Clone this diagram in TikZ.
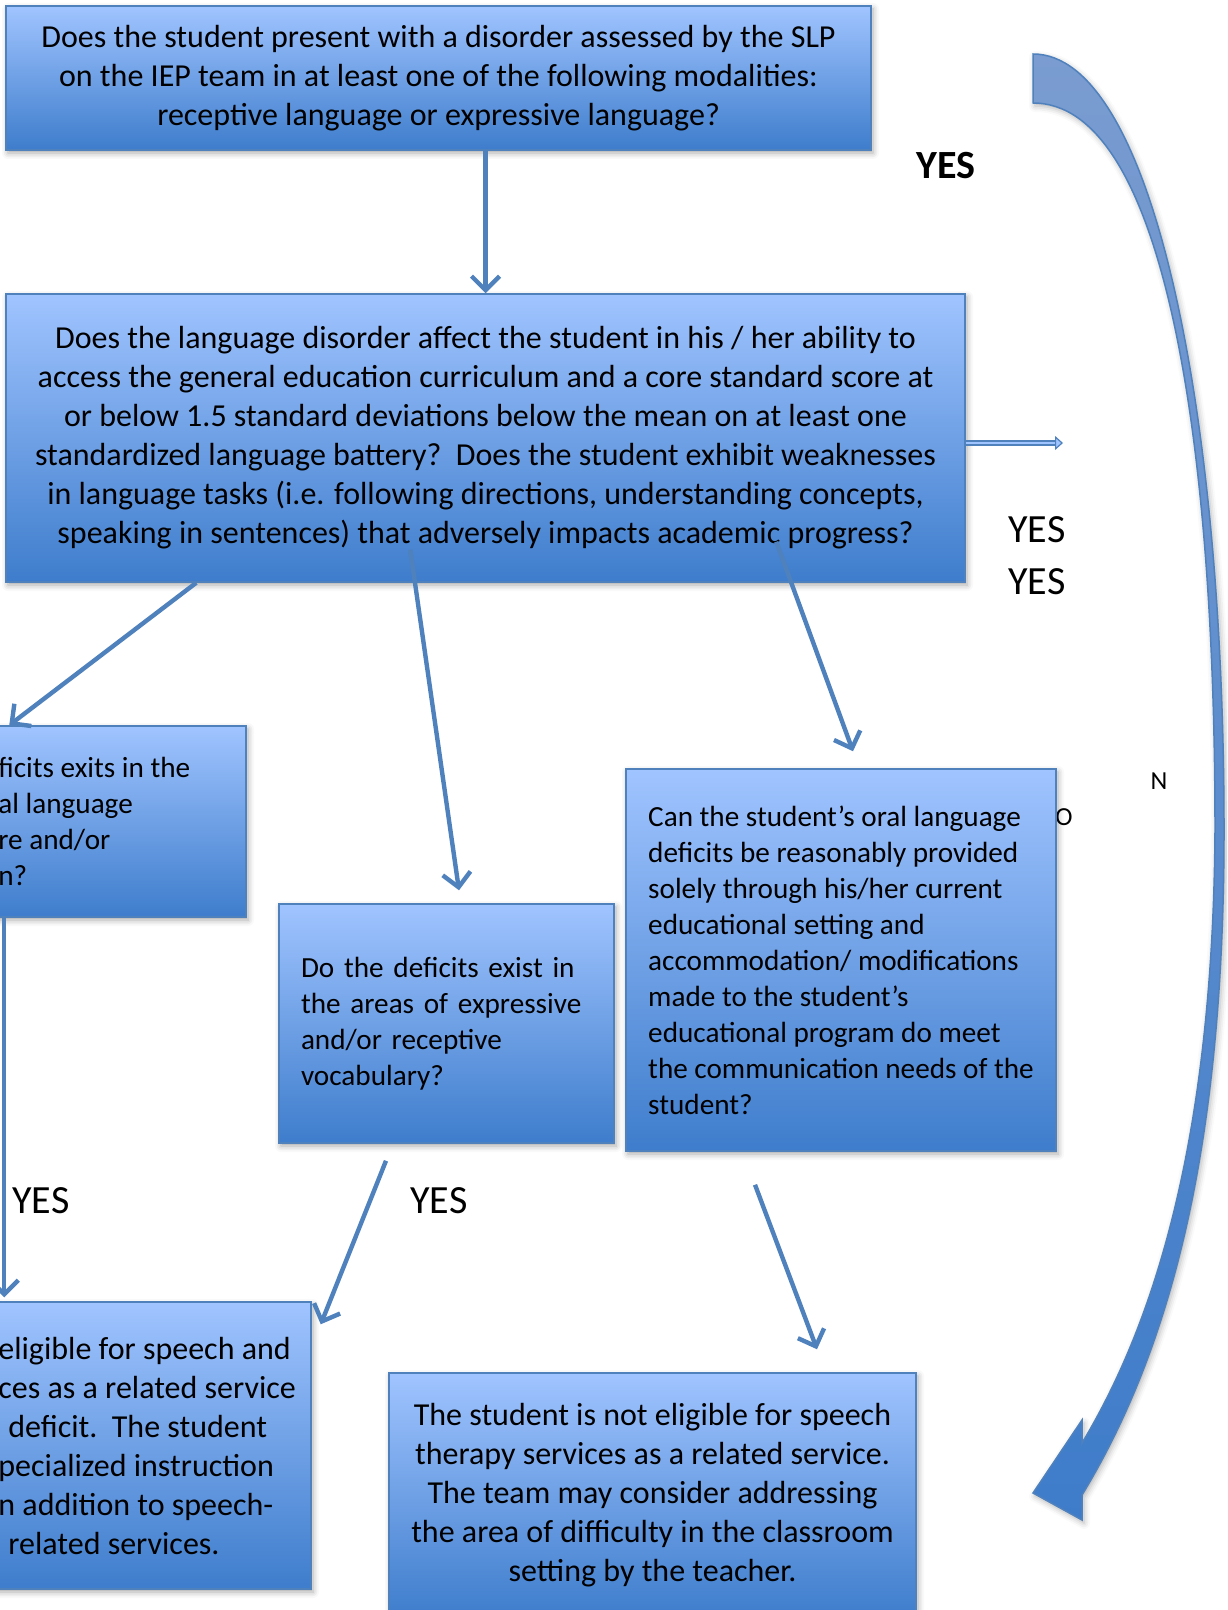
\documentclass[tikz,border=0pt]{standalone}
\usepackage{fontspec}
\setmainfont{Carlito}
\usetikzlibrary{arrows.meta,shadows.blur}

\definecolor{boxtop}{RGB}{160,196,255}
\definecolor{boxbot}{RGB}{62,125,204}
\definecolor{boxline}{RGB}{79,129,189}
\definecolor{linkblue}{RGB}{79,129,189}
\definecolor{bendtop}{RGB}{122,156,208}
\definecolor{bendbot}{RGB}{62,124,202}

\tikzset{
  qbox/.style={draw=boxline, line width=0.75pt, top color=boxtop, bottom color=boxbot,
    blur shadow={shadow xshift=1pt, shadow yshift=-1.5pt, shadow blur radius=3pt, shadow opacity=35},
    inner sep=0pt},
  bigtxt/.style={font=\fontsize{16}{19.5}\selectfont},
  smalltxt/.style={font=\fontsize{14.6}{18}\selectfont},
  yeslbl/.style={font=\fontsize{20}{24}\selectfont},
  yesbold/.style={font=\fontsize{20}{24}\selectfont\bfseries},
  letter/.style={font=\fontsize{13}{15}\selectfont},
  link/.style={draw=linkblue, line width=2.2pt, -{Straight Barb[length=7pt,width=14pt]}},
  dbl/.style={draw=linkblue, line width=0.6pt, double=boxtop, double distance=1.4pt,
    -{Triangle[length=4pt,width=7pt,fill=boxtop]}}
}

\begin{document}
\begin{tikzpicture}[x=0.5pt,y=-0.5pt]
  \useasboundingbox (0,0) rectangle (1227,1610);
  \clip (0,0) rectangle (1227,1610);

  % letters behind the right box
  \node[letter] (lo) at (1064,817) {O};
  \node[letter] (ln) at (1159,781) {N};

  % the big bent arrow on the right
  \path[draw=boxline, line width=0.75pt, top color=bendtop, bottom color=bendbot,
        blur shadow={shadow xshift=1pt, shadow yshift=-1.5pt, shadow blur radius=3pt, shadow opacity=30}]
    (1033,54) .. controls (1150,54) and (1224,400) .. (1224,830)
    .. controls (1224,1150) and (1170,1350) .. (1082,1495)
    -- (1082,1520) -- (1033,1493) -- (1082,1420) -- (1082,1443)
    .. controls (1150,1330) and (1213,1150) .. (1215,830)
    .. controls (1215,420) and (1160,103) .. (1033,103) -- cycle;

  % boxes
  \node[qbox, bigtxt, minimum width=432.5pt, minimum height=72pt, align=center] (q1) at (438.5,78)
    {Does the student present with a disorder assessed by the SLP\\
     on the IEP team in at least one of the following modalities:\\
     receptive language or expressive language?};
  \node[qbox, bigtxt, minimum width=479.5pt, minimum height=144pt, align=center] (q2) at (485.5,438)
    {Does the language disorder affect the student in his / her ability to\\
     access the general education curriculum and a core standard score at\\
     or below 1.5 standard deviations below the mean on at least one\\
     standardized language battery?\ \ Does the student exhibit weaknesses\\
     in language tasks (i.e. following directions, understanding concepts,\\
     speaking in sentences) that adversely impacts academic progress?};
  \node[qbox, minimum width=198pt, minimum height=95.5pt] (q3) at (48,821.5) {};
  \node[smalltxt, align=left, anchor=west, inner sep=0pt] (q3t) at (-2,821.5)
    {ficits exits in the\\al language\\re and/or\\n?};
  \node[qbox, smalltxt, minimum width=167.5pt, minimum height=119.5pt, text width=145.5pt, align=left] (q4) at (446.5,1023.5)
    {Do the deficits exist in\\the areas of expressive\\and/or receptive\\vocabulary?};
  \node[qbox, smalltxt, minimum width=215pt, minimum height=191pt, align=left] (q5) at (841,960)
    {Can the student’s oral language\\
     deficits be reasonably provided\\
     solely through his/her current\\
     educational setting and\\
     accommodation/ modifications\\
     made to the student’s\\
     educational program do meet\\
     the communication needs of the\\
     student?};
  \node[qbox, minimum width=250.5pt, minimum height=143.5pt] (q6) at (60.5,1445.5) {};
  \node[bigtxt, align=left, anchor=west, inner sep=0pt] (q6t) at (-2,1445.5)
    {eligible for speech and\\
     ces as a related service\\
     \hspace*{5pt}deficit.\ \ The student\\
     pecialized instruction\\
     n addition to speech-\\
     \hspace*{5pt}related services.};
  \node[qbox, bigtxt, minimum width=263.5pt, minimum height=122pt, align=center] (q7) at (652.5,1495)
    {The student is not eligible for speech\\
     therapy services as a related service.\\
     The team may consider addressing\\
     the area of difficulty in the classroom\\
     setting by the teacher.};

  % labels
  \node[yesbold] (yes1) at (946,166) {YES};
  \node[yeslbl] (yes2) at (1037,530) {YES};
  \node[yeslbl] (yes3) at (1037,582) {YES};
  \node[yeslbl] (yes4) at (41,1201) {YES};
  \node[yeslbl] (yes5) at (439,1201) {YES};

  % connectors
  \coordinate (yesend) at (1063,443);
  \draw[link] (q1.south -| q2.north) -- (q2.north);
  \draw[link] ([xshift=95.5pt]q2.south west) -- ([xshift=80pt]q3.north west);
  \draw[link] ([xshift=202.5pt,yshift=16.5pt]q2.south west) -- ([xshift=6.25pt,yshift=6.5pt]q4.north);
  \draw[link] ([xshift=385.5pt,yshift=20.5pt]q2.south west) -- ([xshift=6pt,yshift=8.5pt]q5.north);
  \draw[dbl] ([yshift=-2.5pt]q2.east) -- (yesend);
  \draw[link] ([xshift=77.5pt]q3.south west) -- ([xshift=97.5pt,yshift=2pt]q6.north west);
  \draw[link] ([xshift=-30.25pt,yshift=-8.5pt]q4.south) -- ([xshift=4.5pt,yshift=-11.5pt]q6.north east);
  \draw[link] ([xshift=-43pt,yshift=-16.5pt]q5.south) -- ([xshift=82.25pt,yshift=11.5pt]q7.north);
\end{tikzpicture}
\end{document}
